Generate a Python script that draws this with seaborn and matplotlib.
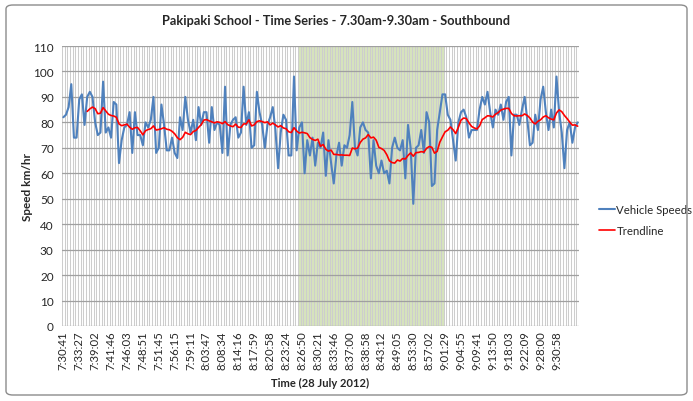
import numpy as np
import pandas as pd
import seaborn as sns
import matplotlib.pyplot as plt
from matplotlib.patches import FancyBboxPatch

speeds = [
    82, 83, 86, 95, 74, 74, 89, 91, 79, 90,
    92, 90, 80, 75, 76, 96, 76, 78, 74, 88,
    87, 64, 73, 78, 79, 84, 68, 84, 75, 75,
    71, 80, 78, 81, 90, 68, 70, 87, 79, 69,
    69, 74, 68, 66, 82, 77, 90, 81, 76, 81,
    73, 86, 79, 84, 84, 72, 86, 77, 80, 79,
    68, 94, 67, 79, 81, 82, 74, 76, 94, 79,
    84, 70, 71, 92, 84, 79, 70, 79, 82, 86,
    77, 62, 76, 83, 81, 67, 67, 98, 69, 78,
    80, 60, 73, 67, 74, 63, 72, 70, 76, 59,
    73, 64, 56, 67, 72, 63, 71, 70, 75, 88,
    70, 67, 78, 80, 77, 76, 58, 73, 63, 60,
    65, 60, 61, 56, 70, 74, 70, 69, 73, 58,
    79, 70, 48, 70, 71, 77, 68, 84, 80, 55,
    56, 77, 84, 91, 91, 83, 81, 73, 65, 80,
    84, 85, 82, 74, 77, 77, 77, 85, 90, 87,
    92, 84, 78, 85, 83, 87, 81, 88, 90, 67,
    83, 83, 79, 85, 90, 81, 71, 72, 83, 77,
    89, 94, 84, 77, 85, 78, 98, 84, 76, 62,
    77, 80, 72, 78, 80,
]

# x-axis labels, shown every 6th vehicle
time_labels = [
    "7:30:41", "7:33:27", "7:39:02", "7:41:46", "7:46:03", "7:48:51",
    "7:51:45", "7:56:15", "7:59:11", "8:03:47", "8:08:34", "8:14:16",
    "8:17:59", "8:20:58", "8:23:24", "8:26:50", "8:30:21", "8:33:46",
    "8:37:00", "8:38:58", "8:43:12", "8:49:05", "8:53:30", "8:57:02",
    "9:01:29", "9:04:55", "9:09:41", "9:13:50", "9:18:03", "9:22:09",
    "9:28:00", "9:30:58",
]
label_step = 6

# school zone period (category positions of the shaded band)
zone_start = 88.8
zone_end = 143.5

# Excel style moving average trendline
trend_period = 10

df = pd.DataFrame({"vehicle": np.arange(len(speeds)), "speed": speeds})
df["trend"] = df["speed"].rolling(trend_period).mean()
n = len(df)

sns.set_style("white")
plt.rcParams["font.family"] = ["Lato", "DejaVu Sans"]

fig = plt.figure(figsize=(6.93, 4.02), dpi=100)
ax = fig.add_axes([62 / 693, 1 - 327 / 402, 517 / 693, 280 / 402])

# shaded school zone band
ax.axvspan(zone_start, zone_end, color="#d7e4bd", lw=0, zorder=0)

# one vertical gridline per vehicle, horizontal every 10 km/hr
for b in np.arange(-0.5, n, 1.0):
    ax.axvline(b, color="#cdcdcd", lw=0.75, zorder=1)
for yv in range(0, 111, 10):
    ax.axhline(yv, color="#a0a0a0", lw=0.9, zorder=1.5)

sns.lineplot(data=df, x="vehicle", y="speed", ax=ax, color="#4f81bd",
             lw=1.5, label="Vehicle Speeds", zorder=3)
sns.lineplot(data=df, x="vehicle", y="trend", ax=ax, color="#ff0000",
             lw=1.2, label="Trendline", zorder=4)

ax.set_xlim(-0.5, n - 0.5)
ax.set_ylim(0, 110)
ax.set_yticks(range(0, 111, 10))
ax.set_xticks(np.arange(0, n, label_step)[:len(time_labels)])
ax.set_xticklabels(time_labels, rotation=90, fontsize=8.2)
ax.tick_params(axis="y", labelsize=8.5, length=0, pad=6)
ax.tick_params(axis="x", length=0, pad=3)
for s in ax.spines.values():
    s.set_visible(False)
ax.grid(False)

ax.set_ylabel("Speed km/hr", fontsize=8.5, fontweight="bold", labelpad=0)
ax.set_xlabel("Time (28 July 2012)", fontsize=8, fontweight="bold", labelpad=6)

fig.text(336 / 693, 1 - 21 / 402, "Pakipaki School - Time Series - 7.30am-9.30am - Southbound",
         ha="center", va="center", fontsize=9.2, fontweight="bold")

ax.legend(loc="center left", bbox_to_anchor=(593 / 693, 1 - 221 / 402),
          bbox_transform=fig.transFigure, frameon=False, borderpad=0,
          fontsize=8.2, handlelength=1.4, handletextpad=0.15, labelspacing=0.8)

# chart area border
border = FancyBboxPatch((6 / 693, 6 / 402), 681 / 693, 390 / 402,
                        boxstyle="round,pad=0,rounding_size=0.01",
                        transform=fig.transFigure, fill=False,
                        edgecolor="#8c8c8c", lw=1.0)
fig.patches.append(border)

fig.savefig("out.png", dpi=100)
